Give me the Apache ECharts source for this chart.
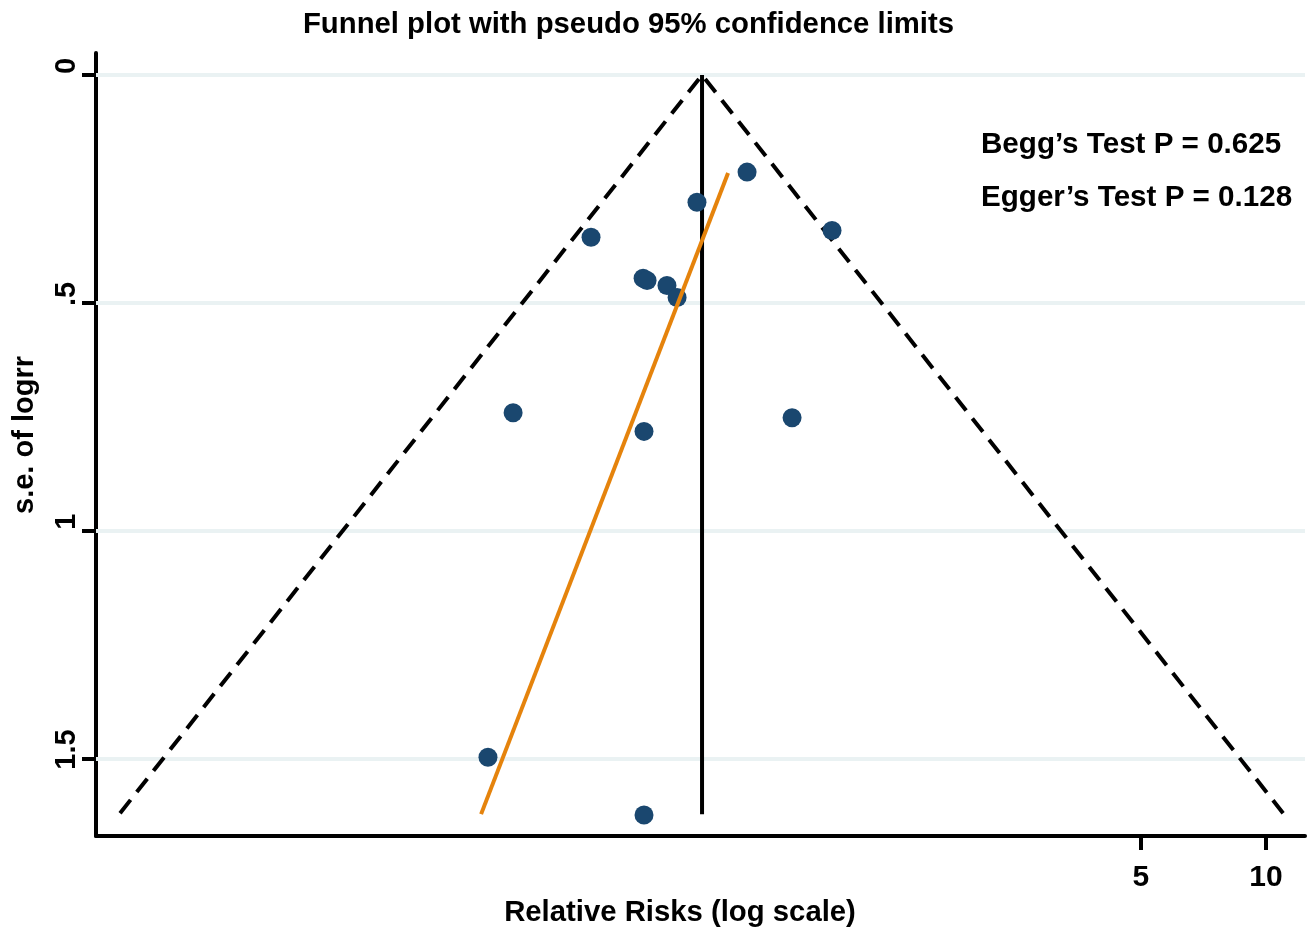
<!DOCTYPE html>
<html><head><meta charset="utf-8">
<script src="https://cdn.jsdelivr.net/npm/echarts@6/dist/echarts.min.js"></script>
<style>html,body{margin:0;padding:0;background:#fff}#c{width:1307px;height:937px}</style>
</head><body><div id="c"></div>
<script>
// study estimates: log relative risk and its standard error
const studyLogRR = [-0.568, -0.845, -1.431, -0.098, -1.143, -1.121, -1.011, -0.955, -1.862, -1.138, -0.319, -2.001, -1.138];
const studySE    = [0.213, 0.279, 0.356, 0.341, 0.446, 0.451, 0.462, 0.488, 0.741, 0.782, 0.752, 1.497, 1.624];
// pooled estimate and pseudo 95% limits (end points)
const pooledLogRR = -0.817;
const summarySE = [0, 1.622];
const funnelLogRR = [-4.036, -0.817, 2.397];
const funnelSE    = [1.620, 0, 1.620];
// Egger regression line end points
const eggerLogRR = [-2.039, -0.673];
const eggerSE    = [1.622, 0.215];
// ticks
const xTickRR = [5, 10];
const yTickValues = [0, 0.5, 1, 1.5];
const yTickLabels = ['0', '.5', '1', '1.5'];
const titleText = 'Funnel plot with pseudo 95% confidence limits';
const xName = 'Relative Risks (log scale)';
const yName = 's.e. of logrr';
const notes = ['Begg’s Test P = 0.625', 'Egger’s Test P = 0.128'];

const FONT = '"Liberation Sans", Arial, sans-serif';
const chart = echarts.init(document.getElementById('c'), null, {renderer: 'canvas'});
const bold = (size) => ({fontFamily: FONT, fontWeight: 'bold', fontSize: size, fill: '#000'});

chart.setOption({
  animation: false,
  backgroundColor: '#fff',
  grid: {left: 96, right: 2, top: 53, bottom: 101, containLabel: false},
  xAxis: {
    type: 'value', min: -4.169, max: 2.518,
    axisLine: {show: true, onZero: false, lineStyle: {color: '#000', width: 4}},
    axisTick: {show: true, length: 14, customValues: xTickRR.map(Math.log), lineStyle: {color: '#000', width: 4}},
    axisLabel: {show: true, customValues: xTickRR.map(Math.log), margin: 27,
      formatter: v => String(Math.round(Math.exp(v))),
      fontFamily: FONT, fontWeight: 'bold', fontSize: 30, color: '#000'},
    splitLine: {show: false}
  },
  yAxis: {
    type: 'value', inverse: true, min: -0.0484, max: 1.670,
    axisLine: {show: true, onZero: false, lineStyle: {color: '#000', width: 4}},
    axisTick: {show: true, length: 14, customValues: yTickValues, lineStyle: {color: '#000', width: 4}},
    axisLabel: {show: true, customValues: yTickValues, rotate: 90, margin: 15,
      padding: [0, 0, 0, 18],
      formatter: v => { const i = yTickValues.findIndex(t => Math.abs(t - v) < 1e-9); return i >= 0 ? yTickLabels[i] : ''; },
      fontFamily: FONT, fontWeight: 'bold', fontSize: 29, color: '#000'},
    splitLine: {show: false}
  },
  series: [
    {
      name: 'grid', type: 'line', data: [], z: 1, silent: true,
      markLine: {
        silent: true, symbol: 'none', label: {show: false}, z: 1,
        lineStyle: {color: '#eaf2f3', width: 4, type: 'solid'},
        data: yTickValues.map(v => ({yAxis: v}))
      }
    },
    {
      name: 'funnel', type: 'line', z: 2, silent: true, symbol: 'none',
      data: funnelLogRR.map((x, i) => [x, funnelSE[i]]),
      lineStyle: {color: '#000', width: 4, type: [17, 10]}
    },
    {
      name: 'pooled', type: 'line', z: 3, silent: true, symbol: 'none',
      data: summarySE.map(s => [pooledLogRR, s]),
      lineStyle: {color: '#000', width: 4}
    },
    {
      name: 'studies', type: 'scatter', z: 4, symbol: 'circle', symbolSize: 19,
      data: studyLogRR.map((x, i) => [x, studySE[i]]),
      itemStyle: {color: '#1a476f', opacity: 1}
    },
    {
      name: 'egger', type: 'line', z: 5, silent: true, symbol: 'none',
      data: eggerLogRR.map((x, i) => [x, eggerSE[i]]),
      lineStyle: {color: '#e5830c', width: 4}
    }
  ],
  graphic: [
    {type: 'text', x: 628.5, y: 25, style: Object.assign({text: titleText, align: 'center', verticalAlign: 'middle'}, bold(29.3))},
    {type: 'text', x: 680, y: 913, style: Object.assign({text: xName, align: 'center', verticalAlign: 'middle'}, bold(29.3))},
    {type: 'text', x: 25, y: 435, rotation: Math.PI / 2, style: Object.assign({text: yName, align: 'center', verticalAlign: 'middle'}, bold(29))},
    {type: 'text', x: 981, y: 145, style: Object.assign({text: notes[0], align: 'left', verticalAlign: 'middle'}, bold(29.6))},
    {type: 'text', x: 981, y: 198, style: Object.assign({text: notes[1], align: 'left', verticalAlign: 'middle'}, bold(29.6))}
  ]
});
</script>
</body></html>
